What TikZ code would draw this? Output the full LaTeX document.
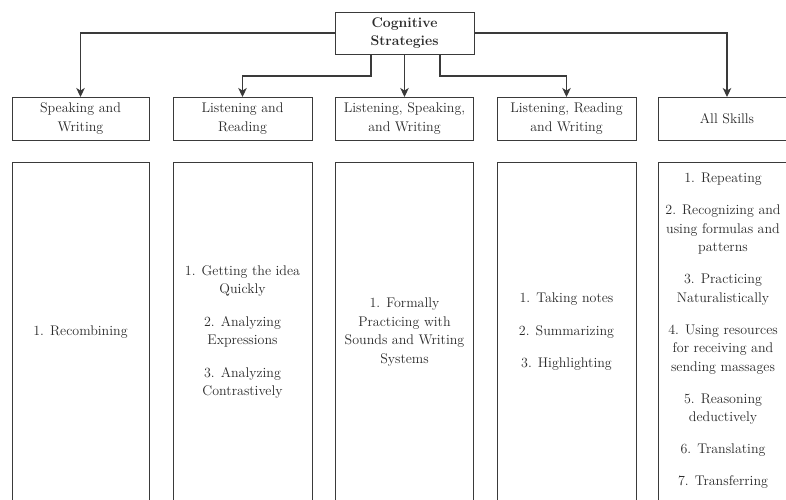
\documentclass[tikz,border=0pt]{standalone}
\usetikzlibrary{arrows.meta}
\definecolor{linec}{HTML}{3A3A3A}
\definecolor{txt}{HTML}{2A2A2A}
\begin{document}
\begin{tikzpicture}[x=1pt,y=-1pt,
  box/.style={draw=linec, line width=0.9pt, inner sep=0pt, outer sep=0pt,
    align=center, text=txt, font=\fontsize{14}{18.5}\selectfont},
  catbox/.style={box, minimum height=43pt},
  contbox/.style={box, minimum height=340pt},
  arr/.style={draw=linec, line width=1.1pt, -{Stealth[length=9pt,width=8.5pt,inset=2.5pt]}}]
\useasboundingbox (0,0) rectangle (786,499);
\clip (0,0) rectangle (786,499);
\fill[white] (0,0) rectangle (786,499);

\node[box, minimum width=139pt, minimum height=42pt,
  font=\fontsize{14}{18}\selectfont\bfseries] (top) at (404.5,33) {Cognitive\\Strategies};

\node[catbox, minimum width=137pt] (c1) at (80.5,118.5) {Speaking and\\Writing};
\node[catbox, minimum width=139pt] (c2) at (242.5,118.5) {Listening and\\Reading};
\node[catbox, minimum width=138pt] (c3) at (404.5,118.5) {Listening, Speaking,\\and Writing};
\node[catbox, minimum width=139pt] (c4) at (566.5,118.5) {Listening, Reading\\and Writing};
\node[catbox, minimum width=138pt] (c5) at (727,118.5) {All Skills};

\node[contbox, minimum width=137pt] (b1) at (80.5,332) {1. Recombining};
\node[contbox, minimum width=139pt] (b2) at (242.5,332)
  {1. Getting the idea\\Quickly\\[14pt]2. Analyzing\\Expressions\\[14pt]3. Analyzing\\Contrastively};
\node[contbox, minimum width=138pt] (b3) at (404.5,332)
  {1. Formally\\Practicing with\\Sounds and Writing\\Systems};
\node[contbox, minimum width=139pt] (b4) at (566.5,332)
  {1. Taking notes\\[14pt]2. Summarizing\\[14pt]3. Highlighting};
\node[contbox, minimum width=138pt] (b5) at (727,332) {};
\node[align=center, text=txt, font=\fontsize{14}{18.5}\selectfont, inner sep=0pt] (t5) at (723,331)
  {1. Repeating\\[13.5pt]2. Recognizing and\\using formulas and\\patterns\\[13.5pt]3. Practicing\\Naturalistically\\[13.5pt]4. Using resources\\for receiving and\\sending massages\\[13.5pt]5. Reasoning\\deductively\\[13.5pt]6. Translating\\[13.5pt]7. Transferring};

\draw[arr] (top.west) -| (c1.north);
\draw[arr] ([xshift=-33.5pt]top.south) -- ++(0,22) -| (c2.north);
\draw[arr] (top.south) -- (c3.north);
\draw[arr] ([xshift=35.5pt]top.south) -- ++(0,22) -| (c4.north);
\draw[arr] (top.east) -| (c5.north);
\end{tikzpicture}
\end{document}
